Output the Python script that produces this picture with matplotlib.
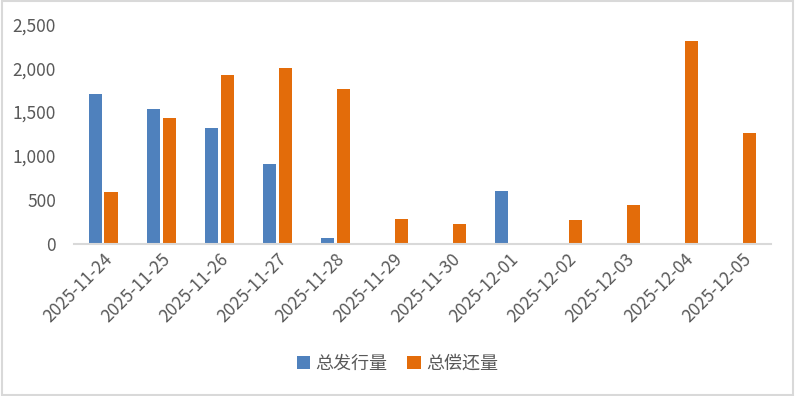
import numpy as np
import matplotlib
matplotlib.use("Agg")
import matplotlib.pyplot as plt
import matplotlib.patches as mpatches
from matplotlib.ticker import FuncFormatter

plt.rcParams['font.family'] = ['Noto Sans CJK SC', 'DejaVu Sans']

# ==========================================
# DATA
# ==========================================
dates = ["2025-11-24", "2025-11-25", "2025-11-26", "2025-11-27", "2025-11-28",
         "2025-11-29", "2025-11-30", "2025-12-01", "2025-12-02", "2025-12-03",
         "2025-12-04", "2025-12-05"]
issuance = [1701, 1530, 1324, 913, 68, 0, 0, 594, 0, 0, 0, 0]
repayment = [585, 1427, 1929, 2009, 1758, 274, 228, 0, 263, 445, 2306, 1256]
series_names = ["总发行量", "总偿还量"]

BLUE = "#4f81bd"
ORANGE = "#e36c0a"
GREY_TEXT = "#595959"

# ==========================================
# FIGURE
# ==========================================
fig = plt.figure(figsize=(7.95, 3.96), dpi=100)
fig.patch.set_facecolor("white")

# chart area border
border = mpatches.Rectangle((0.002, 0.003), 0.996, 0.994, transform=fig.transFigure,
                            fill=False, edgecolor="#d9d9d9", linewidth=1.5)
fig.patches.append(border)

ax = fig.add_axes([74 / 795, 1 - 243.5 / 396, (771 - 74) / 795, (243.5 - 24.5) / 396])

x = np.arange(len(dates))
w = 0.224
gap = 0.025
ax.bar(x - w / 2 - gap, issuance, width=w, color=BLUE, label=series_names[0])
ax.bar(x + w / 2 + gap, repayment, width=w, color=ORANGE, label=series_names[1])

ax.set_xlim(-0.5, len(dates) - 0.5)
ax.set_ylim(0, 2500)
ax.set_yticks(np.arange(0, 2501, 500))
ax.yaxis.set_major_formatter(FuncFormatter(lambda v, p: f"{int(v):,}"))

for s in ["top", "right", "left"]:
    ax.spines[s].set_visible(False)
ax.spines["bottom"].set_color("#d9d9d9")
ax.spines["bottom"].set_linewidth(1.5)

ax.tick_params(axis="y", length=0, labelsize=12.5, labelcolor=GREY_TEXT, pad=13)
ax.tick_params(axis="x", length=0, labelsize=12.5, labelcolor=GREY_TEXT, pad=5)
ax.set_xticks(x)
ax.set_xticklabels(dates, rotation=45, ha="right", rotation_mode="anchor")

leg = fig.legend(loc="center", bbox_to_anchor=(0.5, 0.082), ncol=2, frameon=False,
                 fontsize=13, handlelength=0.75, handleheight=0.75, handletextpad=0.3,
                 columnspacing=1.1)
for t in leg.get_texts():
    t.set_color(GREY_TEXT)

fig.savefig("out.png", dpi=100)
